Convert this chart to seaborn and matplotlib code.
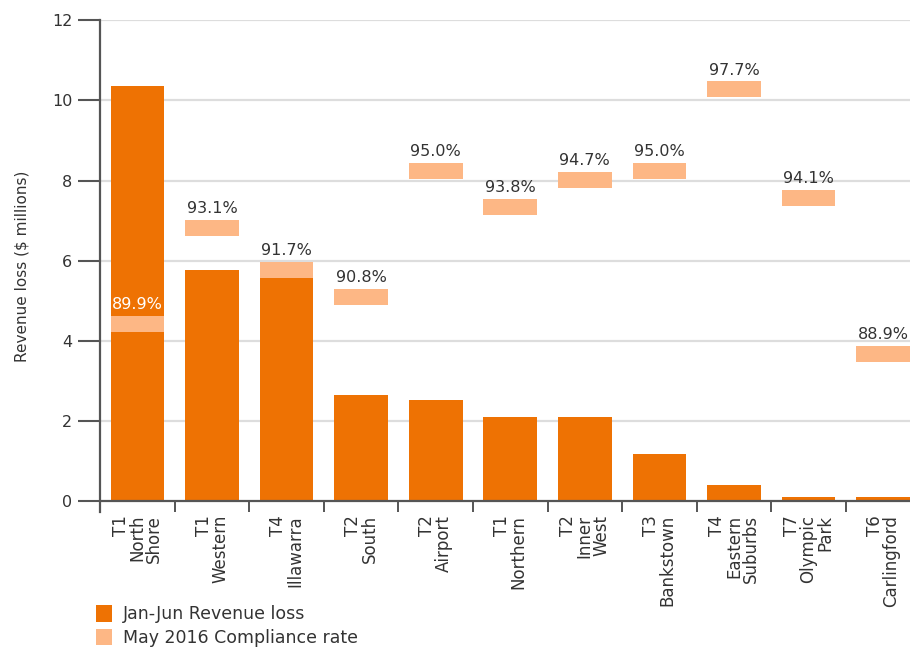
import matplotlib
matplotlib.use("Agg")
import matplotlib.pyplot as plt
import seaborn as sns
import pandas as pd
from matplotlib.patches import Patch

# ---- data ----
categories = ["T1\nNorth\nShore", "T1\nWestern", "T4\nIllawarra", "T2\nSouth",
              "T2\nAirport", "T1\nNorthern", "T2\nInner\nWest", "T3\nBankstown",
              "T4\nEastern\nSuburbs", "T7\nOlympic\nPark", "T6\nCarlingford"]
revenue_loss = [10.36, 5.77, 5.75, 2.65, 2.52, 2.10, 2.10, 1.18, 0.41, 0.09, 0.09]
compliance_rate = [89.9, 93.1, 91.7, 90.8, 95.0, 93.8, 94.7, 95.0, 97.7, 94.1, 88.9]
y_ticks = [0, 2, 4, 6, 8, 10, 12]

ORANGE = "#EE7203"
LIGHT = "#FDB785"
AXIS = "#555555"
TEXT = "#333333"

sns.set_style("white")
plt.rcParams["font.family"] = ["DejaVu Sans"]

fig = plt.figure(figsize=(9.10, 6.48), dpi=100)
ax = fig.add_axes([0.110, 0.2096, 0.890, 0.759])

df = pd.DataFrame({"line": categories, "loss": revenue_loss})
sns.barplot(data=df, x="line", y="loss", color=ORANGE, saturation=1,
            width=0.72, ax=ax, zorder=3, linewidth=0, edgecolor="none")

ax.set_xlim(-0.5, 10.36)
ax.set_ylim(-0.28, 12)
ax.set_yticks(y_ticks)
ax.set_yticklabels([str(t) for t in y_ticks], fontsize=11.5, color=TEXT)
for t in y_ticks[1:]:
    ax.axhline(t, color="#dddddd", lw=1.6, zorder=1)
ax.axhline(0, color=AXIS, lw=1.6, zorder=4)

for s in ["top", "right", "bottom"]:
    ax.spines[s].set_visible(False)
ax.spines["left"].set_color(AXIS)
ax.spines["left"].set_linewidth(1.6)

# x labels at category centres, separators as minor ticks
ax.set_xticks(range(len(categories)))
ax.set_xticklabels(categories, rotation=90, ha="center", va="top",
                   multialignment="right", fontsize=12, color=TEXT, linespacing=0.92)
ax.tick_params(axis="x", which="major", length=0, pad=2, bottom=True)
ax.set_xticks([i + 0.5 for i in range(len(categories) - 1)], minor=True)
ax.tick_params(axis="x", which="minor", direction="in", length=8, width=1.4,
               color=AXIS, bottom=True)
ax.set_xlabel("")
ax.set_ylabel("Revenue loss (\\$ millions)", fontsize=11, color=TEXT, labelpad=16)

# y tick marks drawn as short outward lines on the y-axis transform
ax.tick_params(axis="y", which="major", length=0, pad=20, left=True, labelleft=True)
ax.hlines(y_ticks, -0.0272, 0, transform=ax.get_yaxis_transform(), clip_on=False,
          color=AXIS, lw=1.5, zorder=5)

# compliance rate on a hidden secondary scale
ax2 = ax.twinx()
ax2.set_ylim(83.6267, 100)
ax2.set_xlim(ax.get_xlim())
ax2.axis("off")
band = 0.5333
xs = list(range(len(categories)))
ax2.bar(xs, [band] * len(xs), bottom=[r - band / 2 for r in compliance_rate],
        width=0.72, color=LIGHT, linewidth=0, edgecolor="none", zorder=5)
for i, r in enumerate(compliance_rate):
    col = "white" if i == 0 else TEXT
    ax2.annotate(f"{r:.1f}%", (i, r + band / 2), xytext=(0, 2.5),
                 textcoords="offset points", ha="center", va="bottom",
                 fontsize=11.5, color=col, zorder=6)

handles = [Patch(facecolor=ORANGE, edgecolor="none", label="Jan-Jun Revenue loss"),
           Patch(facecolor=LIGHT, edgecolor="none", label="May 2016 Compliance rate")]
fig.legend(handles=handles, loc="upper left", bbox_to_anchor=(0.106, 0.066),
           frameon=False, fontsize=12.5, handlelength=0.9, handleheight=1.1,
           handletextpad=0.6, labelspacing=0.3, borderaxespad=0, borderpad=0,
           labelcolor=TEXT)

fig.savefig("out.png", dpi=100)
